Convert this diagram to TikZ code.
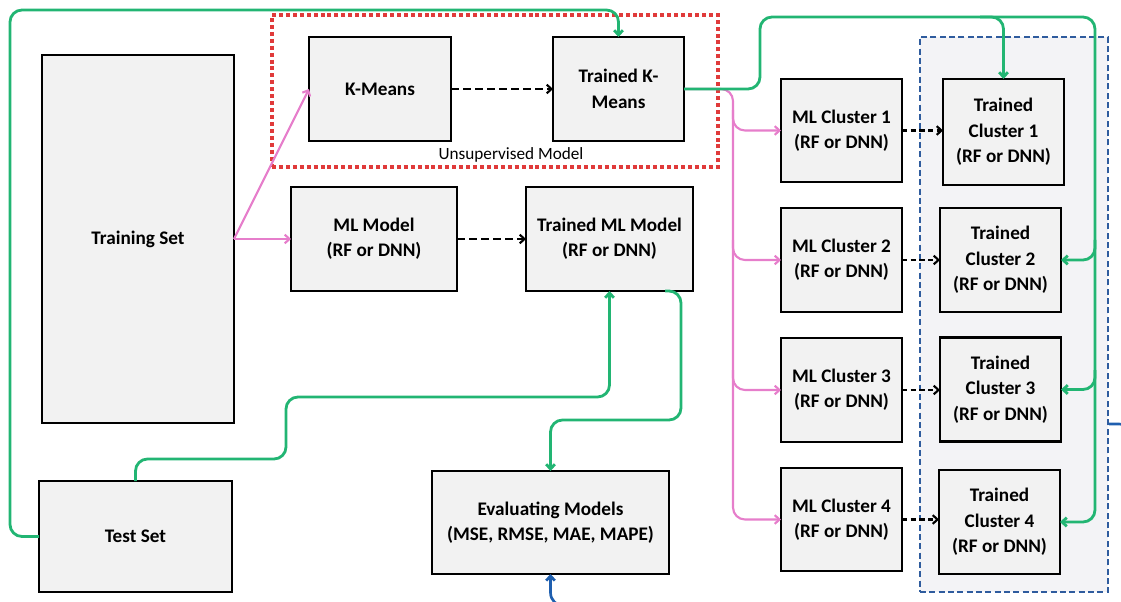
\documentclass[tikz,border=0pt]{standalone}
\usepackage{fontspec}
\setmainfont{Carlito}
\usetikzlibrary{arrows.meta}
\definecolor{lnGreen}{HTML}{22B573}
\definecolor{lnPink}{HTML}{E67ECB}
\definecolor{lnRed}{HTML}{E03A3A}
\definecolor{lnBlue}{HTML}{2F5C9E}
\definecolor{arBlue}{HTML}{1F5FAF}
\definecolor{boxFill}{HTML}{F2F2F2}
\definecolor{grpFill}{HTML}{F3F3F6}
\tikzset{
  bx/.style 2 args={draw=black, line width=1.6pt, fill=boxFill, inner sep=0pt, outer sep=0pt,
    minimum width=#1*0.75pt, minimum height=#2*0.75pt, align=center,
    font=\fontsize{14.4}{19}\selectfont\bfseries},
  tip/.style={-{Straight Barb[length=3.5pt,width=6.5pt]}},
  gline/.style={draw=lnGreen, line width=2.1pt, rounded corners=9pt},
  pline/.style={draw=lnPink, line width=1.6pt, rounded corners=9pt},
  dline/.style={draw=black, line width=1.6pt, dash pattern=on 6pt off 3pt},
  sdline/.style={draw=black, line width=1.6pt, dash pattern=on 4pt off 2.5pt},
}
\begin{document}
\begin{tikzpicture}[x=0.75pt,y=-0.75pt]
\useasboundingbox (0,0) rectangle (1121,602);
% groups
\node[draw=lnBlue, fill=grpFill, line width=1.2pt, dash pattern=on 4.5pt off 2.5pt,
  minimum width=188*0.75pt, minimum height=555*0.75pt, inner sep=0pt] (grp) at (1014,314.5) {};
\node[draw=lnRed, line width=3pt, dash pattern=on 3pt off 2.2pt,
  minimum width=446*0.75pt, minimum height=152*0.75pt, inner sep=0pt] (unsup) at (495,91) {};
\node[font=\fontsize{12.9}{15}\selectfont] (unsuplbl) at (511,155) {Unsupervised Model};
% boxes
\node[bx={192}{368}] (train) at (138,239) {Training Set};
\node[bx={142}{104}] (kmeans) at (380,89) {K-Means};
\node[bx={131}{104}] (tkmeans) at (618.5,89) {Trained K-\\Means};
\node[bx={166}{104}] (mlmodel) at (374,239) {ML Model\\(RF or DNN)};
\node[bx={167}{104}] (tmlmodel) at (609.5,239) {Trained ML Model\\(RF or DNN)};
\node[bx={193}{111}] (test) at (135.5,536.5) {Test Set};
\node[bx={237}{103}] (eval) at (550.5,522.5) {Evaluating Models\\(MSE, RMSE, MAE, MAPE)};
\node[bx={121}{103}] (mlc1) at (841.5,130.5) {ML Cluster 1\\(RF or DNN)};
\node[bx={121}{104}] (mlc2) at (841.5,260) {ML Cluster 2\\(RF or DNN)};
\node[bx={121}{104}] (mlc3) at (841.5,390) {ML Cluster 3\\(RF or DNN)};
\node[bx={121}{103}] (mlc4) at (841.5,519.5) {ML Cluster 4\\(RF or DNN)};
\node[bx={121}{106}] (tc1) at (1003.5,132) {Trained\\Cluster 1\\(RF or DNN)};
\node[bx={121}{104}] (tc2) at (1000.5,260) {Trained\\Cluster 2\\(RF or DNN)};
\node[bx={121}{104}] (tc3) at (1000.5,389.5) {Trained\\Cluster 3\\(RF or DNN)};
\node[bx={121}{104}] (tc4) at (999.5,522) {Trained\\Cluster 4\\(RF or DNN)};
% pink connectors
\coordinate (tsout) at (234,239);
\draw[pline, tip] (tsout) -- (kmeans.west);
\draw[pline, tip] (tsout) -- (mlmodel.west);
\draw[pline, tip] (tkmeans.east) -- (733,89) -- (733,519.5) -- (mlc4.west);
\draw[pline, tip] (733,110) |- (mlc1.west);
\draw[pline, tip] (733,240) |- (mlc2.west);
\draw[pline, tip] (733,370) |- (mlc3.west);
% dashed connectors
\draw[dline, tip] (kmeans.east) -- (tkmeans.west);
\draw[dline, tip] (mlmodel.east) -- (tmlmodel.west);
\draw[sdline, tip] (mlc1.east) -- (mlc1.east -| tc1.west);
\draw[sdline, tip] (mlc2.east) -- (mlc2.east -| tc2.west);
\draw[sdline, tip] (mlc3.east) -- (mlc3.east -| tc3.west);
\draw[sdline, tip] (mlc4.east) -- (mlc4.east -| tc4.west);
% green connectors
\draw[gline, tip] (test.west) -- (10,536.5) -- (10,10) -- (tkmeans.north |- 0,10) -- (tkmeans.north);
\draw[gline, tip] (tkmeans.east) -- (760,89) -- (760,17) -- (1095,17) -- (1095,522) -- (tc4.east);
\draw[gline, tip] (980,17) -| (tc1.north);
\draw[gline, tip] (1095,240) |- (tc2.east);
\draw[gline, tip] (1095,370) |- (tc3.east);
\draw[gline, tip] (test.north) -- (test.north |- 0,459) -- (286,459) -- (286,397) -- (tmlmodel.south |- 0,397) -- (tmlmodel.south);
\coordinate (tmlout) at (665,291);
\draw[gline, tip] (tmlout) -- (681,291) -- (681,420) -- (eval.north |- 0,420) -- (eval.north);
% blue connector
\coordinate (grpout) at (grp.east |- 0,424);
\draw[draw=arBlue, line width=2pt, rounded corners=10pt, tip] (grpout) -- (1132,424) -- (1132,606) -- (eval.south |- 0,606) -- (eval.south);
\end{tikzpicture}
\end{document}
